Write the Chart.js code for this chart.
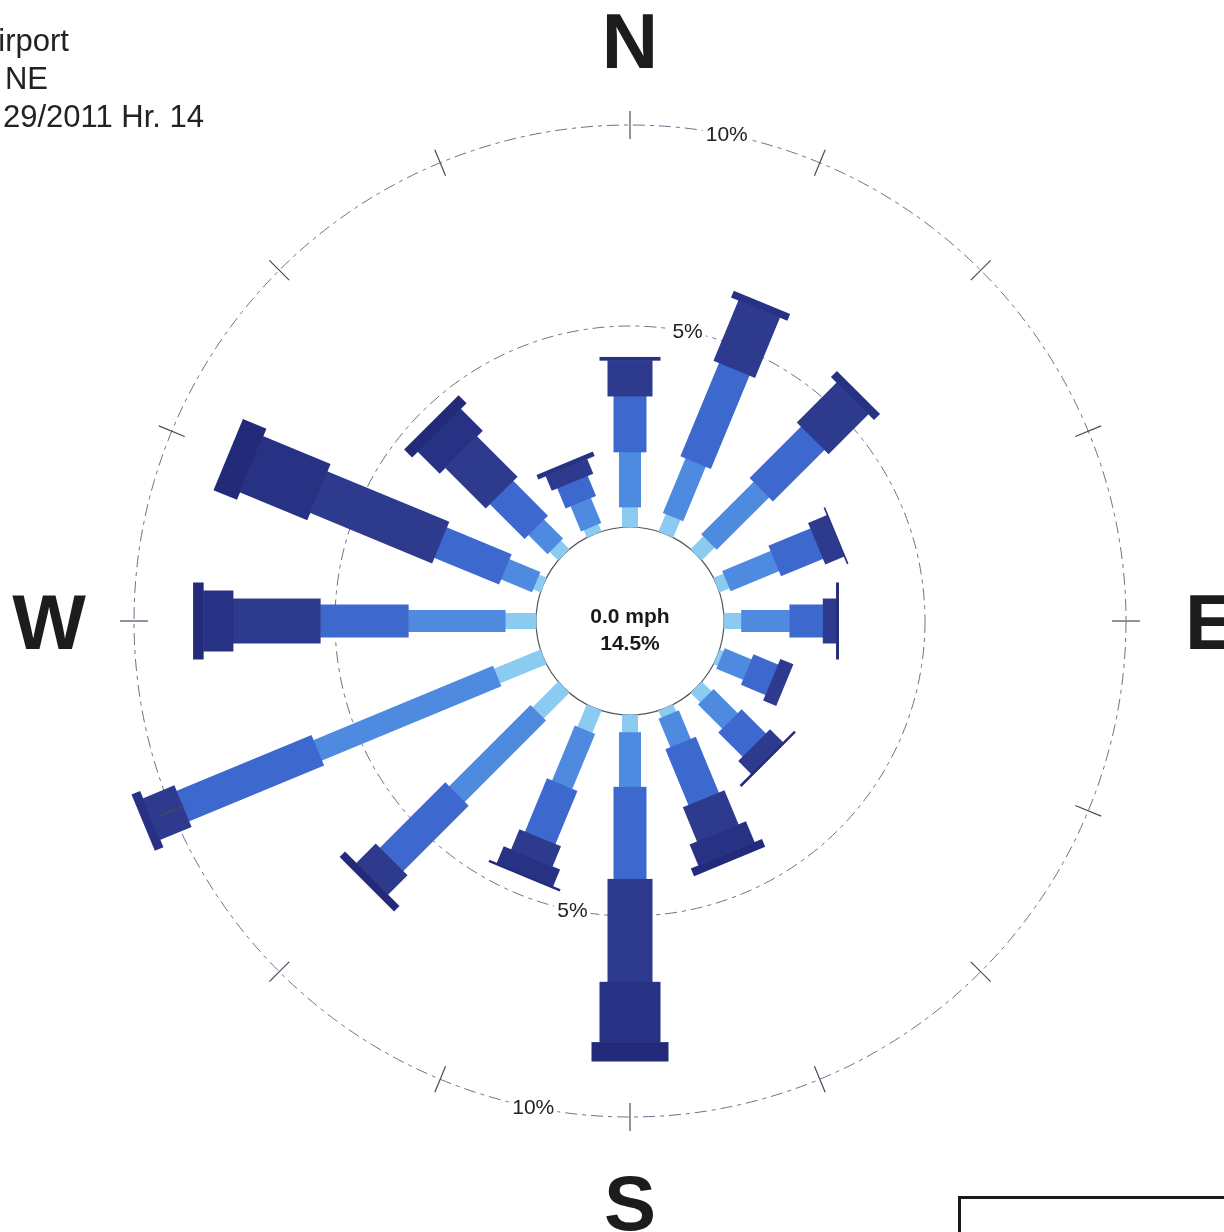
<!DOCTYPE html>
<html>
<head>
<meta charset="utf-8">
<title>Wind Rose</title>
<script src="https://cdn.jsdelivr.net/npm/chart.js@4.4.1/dist/chart.umd.min.js"></script>
<style>
    html, body {
        margin: 0;
        padding: 0;
        width: 1224px;
        height: 1232px;
        overflow: hidden;
        background: #ffffff;
        font-family: "Liberation Sans", Arial, sans-serif;
    }

    #rose {
        position: absolute;
        left: 0;
        top: 0;
    }

    .station-info {
        position: absolute;
        font-size: 31px;
        color: #222222;
        white-space: nowrap;
        text-align: right;
        line-height: 1;
    }

    .logo-box {
        position: absolute;
        left: 958px;
        top: 1196px;
        width: 300px;
        height: 100px;
        border: 3px solid #1a1a1a;
    }
</style>
</head>
<body>
<canvas id="rose" width="1260" height="1242"></canvas>

<div class="station-info" style="right: 1155px; top: 25px;">irport</div>
<div class="station-info" style="right: 1176px; top: 63px;">NE</div>
<div class="station-info" style="right: 1020px; top: 101px;">29/2011 Hr. 14</div>

<div class="logo-box"></div>

<script>
const directions = ["N", "NNE", "NE", "ENE", "E", "ESE", "SE", "SSE",
                    "S", "SSW", "SW", "WSW", "W", "WNW", "NW", "NNW"];

// frequency (%) of each speed class, per direction
const speedClass1 = [0.50, 0.47, 0.45, 0.27, 0.44, 0.11, 0.34, 0.19, 0.44, 0.60, 0.90, 1.25, 0.77, 0.20, 0.30, 0.20];
const speedClass2 = [1.37, 1.47, 1.84, 1.30, 1.20, 0.72, 0.85, 0.77, 1.36, 1.48, 2.86, 4.83, 2.41, 0.83, 0.67, 0.67];
const speedClass3 = [1.39, 2.51, 1.81, 1.13, 0.83, 0.66, 0.85, 1.50, 2.29, 1.43, 2.30, 3.63, 2.19, 1.74, 1.22, 0.54];
const speedClass4 = [0.89, 1.62, 1.40, 0.50, 0.33, 0.34, 0.45, 0.92, 2.56, 0.54, 0.68, 0.84, 2.17, 3.28, 1.42, 0.39];
const speedClass5 = [0.08, 0.17, 0.20, 0.03, 0.00, 0.00, 0.00, 0.56, 1.50, 0.45, 0.00, 0.22, 0.74, 1.81, 0.77, 0.11];
const speedClass6 = [0.00, 0.00, 0.00, 0.00, 0.06, 0.00, 0.05, 0.20, 0.47, 0.05, 0.18, 0.00, 0.25, 0.62, 0.27, 0.00];

const calmSpeed = "0.0 mph";
const calmPercent = 14.5;

const rings = [5, 10];
const ringLabels = ["5%", "10%"];
const compassLabels = ["N", "E", "S", "W"];

// styling
const classColors = ["#8ccbf1", "#4d8ae0", "#3d69cf", "#2d3a8d", "#283284", "#222a79"];
const classWidths = [16, 22, 33, 45, 61, 77];
const pxPerPercent = 40.2;
const calmRadius = 94;
const roseRadius = 621;
const scaleMin = -calmRadius / pxPerPercent;
const scaleMax = scaleMin + roseRadius / pxPerPercent;

const allClasses = [speedClass1, speedClass2, speedClass3, speedClass4, speedClass5, speedClass6];

const windRosePlugin = {
    id: "windRose",
    afterDatasetsDraw(chart) {
        const scale = chart.scales.r;
        const ctx = chart.ctx;

        ctx.save();
        ctx.translate(scale.xCenter, scale.yCenter);
        directions.forEach(function (dir, i) {
            const angle = scale.getIndexAngle(i);
            let base = 0;
            chart.data.datasets.forEach(function (ds, k) {
                const v = ds.data[i];
                if (!v) return;
                const r0 = scale.getDistanceFromCenterForValue(base);
                const r1 = scale.getDistanceFromCenterForValue(base + v);
                base += v;
                const w = classWidths[k];
                ctx.save();
                ctx.rotate(angle);
                ctx.fillStyle = ds.backgroundColor;
                ctx.fillRect(-w / 2, -r1, w, r1 - r0 + 0.5);
                ctx.restore();
            });
        });
        ctx.restore();
    },
    afterDraw(chart) {
        const scale = chart.scales.r;
        const ctx = chart.ctx;
        const n = directions.length;

        // short radial ticks on the outer ring
        const outer = scale.getDistanceFromCenterForValue(rings[rings.length - 1]);
        ctx.save();
        ctx.strokeStyle = "#4a4a55";
        ctx.lineWidth = 1.2;
        for (let i = 0; i < n; i++) {
            const a = scale.getPointPosition(i, outer - 14);
            const b = scale.getPointPosition(i, outer + 14);
            ctx.beginPath();
            ctx.moveTo(a.x, a.y);
            ctx.lineTo(b.x, b.y);
            ctx.stroke();
        }
        ctx.restore();

        // ring labels, halfway between N/NNE and S/SSW
        ctx.save();
        ctx.font = "21px 'Liberation Sans', Arial, sans-serif";
        ctx.textAlign = "center";
        ctx.textBaseline = "middle";
        rings.forEach(function (v, j) {
            const d = scale.getDistanceFromCenterForValue(v);
            [0.5, n / 2 + 0.5].forEach(function (idx) {
                const p = scale.getPointPosition(idx, d);
                const w = ctx.measureText(ringLabels[j]).width;
                ctx.fillStyle = "#ffffff";
                ctx.fillRect(p.x - w / 2 - 3, p.y - 10, w + 6, 20);
                ctx.fillStyle = "#222222";
                ctx.fillText(ringLabels[j], p.x, p.y + 1);
            });
        });
        ctx.restore();

        // calm frequency in the middle
        ctx.save();
        ctx.fillStyle = "#1a1a1a";
        ctx.textAlign = "center";
        ctx.font = "bold 21px 'Liberation Sans', Arial, sans-serif";
        ctx.fillText(calmSpeed, scale.xCenter, scale.yCenter + 2);
        ctx.fillText(calmPercent.toFixed(1) + "%", scale.xCenter, scale.yCenter + 29);
        ctx.restore();

        // compass letters
        ctx.save();
        ctx.fillStyle = "#1c1c1c";
        ctx.textAlign = "center";
        ctx.font = "bold 78px 'Liberation Sans', Arial, sans-serif";
        compassLabels.forEach(function (txt, j) {
            const p = scale.getPointPosition(j * n / 4, 581);
            ctx.fillText(txt, p.x, p.y + 28);
        });
        ctx.restore();
    }
};

new Chart(document.getElementById("rose"), {
    type: "radar",
    data: {
        labels: directions,
        datasets: allClasses.map(function (values, k) {
            return {
                label: "Class " + (k + 1),
                data: values,
                backgroundColor: classColors[k],
                borderWidth: 0,
                pointRadius: 0,
                showLine: false,
                fill: false
            };
        })
    },
    options: {
        responsive: false,
        animation: false,
        events: [],
        layout: { padding: 0 },
        plugins: {
            legend: { display: false },
            tooltip: { enabled: false }
        },
        scales: {
            r: {
                min: scaleMin,
                max: scaleMax,
                startAngle: 0,
                afterBuildTicks: function (scale) {
                    scale.ticks = [{ value: scaleMin }, { value: 0 }].concat(rings.map(function (v) {
                        return { value: v };
                    }));
                },
                ticks: { display: false },
                pointLabels: { display: false },
                angleLines: { display: false },
                grid: {
                    circular: true,
                    color: function (c) {
                        if (c.tick.value === scaleMin) return "rgba(0,0,0,0)";
                        return c.tick.value === 0 ? "#555555" : "#6d7189";
                    },
                    lineWidth: function (c) {
                        return c.tick.value === 0 ? 1.2 : 1;
                    }
                },
                border: {
                    dash: function (c) {
                        return c.tick && c.tick.value > 0 ? [12, 5, 4, 5] : [];
                    }
                }
            }
        }
    },
    plugins: [windRosePlugin]
});
</script>
</body>
</html>
